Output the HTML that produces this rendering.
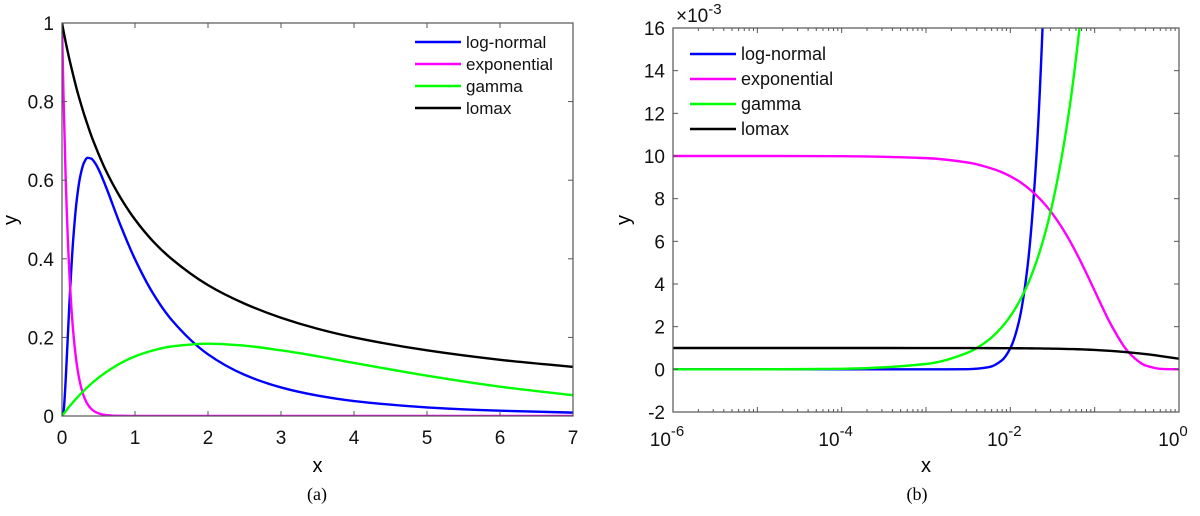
<!DOCTYPE html>
<html><head><meta charset="utf-8"><style>
body{margin:0;background:#fff}
svg{display:block;font-family:"Liberation Sans",sans-serif}
</style></head><body>
<svg id="c" width="1200" height="516" viewBox="0 0 1200 516"></svg>
<script>
// ---- panel (a) data ----
const xA = [0,0.02,0.05,0.1,0.15,0.2,0.25,0.3,0.35,0.4,0.45,0.5,0.6,0.8,1,1.25,1.5,2,2.5,3,3.5,4,5,6,7];
const lognormA = [0,0.0095,0.0897,0.2816,0.440,0.546,0.610,0.644,0.657,0.655,0.6446,0.628,0.584,0.486,0.399,0.311,0.245,0.157,0.105,0.0727,0.052,0.0381,0.0219,0.0134,0.0086];
const expA = [1,0.819,0.607,0.368,0.223,0.135,0.0821,0.0498,0.0302,0.0183,0.0111,0.0067,0.0025,0.0003,0,0,0,0,0,0,0,0,0,0,0];
const gammaA = [0,0.005,0.0122,0.0238,0.0348,0.0452,0.0552,0.0646,0.0736,0.0819,0.0899,0.0974,0.111,0.134,0.1516,0.167,0.177,0.184,0.179,0.167,0.152,0.135,0.1026,0.0747,0.0528];
const lomaxA = [1,0.980,0.952,0.909,0.870,0.833,0.8,0.769,0.741,0.714,0.690,0.667,0.625,0.556,0.5,0.444,0.4,0.333,0.286,0.25,0.222,0.2,0.167,0.143,0.125];
const xTicksA = [0,1,2,3,4,5,6,7];
const yTicksA = [0,0.2,0.4,0.6,0.8,1];
const yTickLabelsA = ["0","0.2","0.4","0.6","0.8","1"];
// ---- panel (b) data (y in units of 1e-3) ----
const xB = [1e-6,1e-5,1e-4,1e-3,0.00316,0.00562,0.00794,0.01,0.01259,0.01585,0.01995,0.02512,0.03162,0.03981,0.05012,0.0631,0.07943,0.1,0.1585,0.2512,0.3981,0.631,1];
const lognormB = [0,0,0,0,0.008,0.105,0.42,0.99,2.21,4.68,9.4,17.9,32.4,55,90,140,200,250,300,300,300,300,300];
const expB = [10,10,9.99,9.90,9.69,9.45,9.24,9.05,8.82,8.53,8.19,7.78,7.29,6.72,6.06,5.32,4.52,3.68,2.05,0.81,0.187,0.018,0.0005];
const gammaB = [0.00025,0.0025,0.025,0.25,0.79,1.40,1.98,2.49,3.13,3.93,4.94,6.20,7.78,9.75,12.2,15.3,19.1,24,38,60,90,130,200];
const lomaxB = [1,1,1,0.999,0.997,0.994,0.992,0.990,0.988,0.984,0.980,0.975,0.969,0.962,0.952,0.941,0.926,0.909,0.863,0.799,0.715,0.613,0.5];
const xTicksB = [-6,-4,-2,0];
const yTicksB = [-2,0,2,4,6,8,10,12,14,16];

const NS="http://www.w3.org/2000/svg";
const svg=document.getElementById('c');
function mk(tag,attrs,parent){const e=document.createElementNS(NS,tag);for(const k in attrs)e.setAttribute(k,attrs[k]);(parent||svg).appendChild(e);return e;}
// monotone cubic (Fritsch-Carlson) in pixel space
function smooth(pts){
  const n=pts.length, dx=[], m=[], t=[];
  for(let i=0;i<n-1;i++){dx[i]=pts[i+1][0]-pts[i][0];m[i]=(pts[i+1][1]-pts[i][1])/dx[i];}
  t[0]=m[0];t[n-1]=m[n-2];
  for(let i=1;i<n-1;i++){
    if(m[i-1]*m[i]<=0)t[i]=0;
    else{const w1=2*dx[i]+dx[i-1],w2=dx[i]+2*dx[i-1];t[i]=(w1+w2)/(w1/m[i-1]+w2/m[i]);}
  }
  let d="M"+pts[0][0].toFixed(2)+","+pts[0][1].toFixed(2);
  for(let i=0;i<n-1;i++){
    const h=dx[i]/3;
    d+=`C${(pts[i][0]+h).toFixed(2)},${(pts[i][1]+t[i]*h).toFixed(2)} ${(pts[i+1][0]-h).toFixed(2)},${(pts[i+1][1]-t[i+1]*h).toFixed(2)} ${pts[i+1][0].toFixed(2)},${pts[i+1][1].toFixed(2)}`;
  }
  return d;
}
const defs=mk('defs',{});
const colors={ln:'#0000ff',ex:'#ff00ff',ga:'#00ff00',lo:'#000000'};

// ---------- Panel A ----------
const A={l:62,r:573,t:23,b:416};
const sxA=v=>A.l+(v-0)/(7-0)*(A.r-A.l);
const syA=v=>A.b-(v-0)/(1-0)*(A.b-A.t);
const cpA=mk('clipPath',{id:'cpA'},defs);mk('rect',{x:A.l,y:A.t-2,width:A.r-A.l,height:A.b-A.t+2},cpA);
const gA=mk('g',{});


const plotA=mk('g',{'clip-path':'url(#cpA)'},gA);
[[lognormA,colors.ln,'log-normal'],[expA,colors.ex,'exponential'],[gammaA,colors.ga,'gamma'],[lomaxA,colors.lo,'lomax']].forEach(([ys,c,n])=>{
  const p=mk('path',{d:smooth(xA.map((x,i)=>[sxA(x),syA(ys[i])])),fill:'none',stroke:c,'stroke-width':2.4},plotA);
  
  
});
const frameA=mk('rect',{x:A.l,y:A.t,width:A.r-A.l,height:A.b-A.t,fill:'none',stroke:'#555','stroke-width':1.2},gA);


xTicksA.forEach(v=>{
  const x=sxA(v);
  mk('line',{x1:x,y1:A.b,x2:x,y2:A.b-5,stroke:'#555'},gA);
  mk('line',{x1:x,y1:A.t,x2:x,y2:A.t+5,stroke:'#555'},gA);
  const t=mk('text',{x:x,y:444,'font-size':19,'text-anchor':'middle',fill:'#111'},gA);t.textContent=v;
  
  
});
yTicksA.forEach((v,i)=>{
  const y=syA(v);
  mk('line',{x1:A.l,y1:y,x2:A.l+5,y2:y,stroke:'#555'},gA);
  mk('line',{x1:A.r,y1:y,x2:A.r-5,y2:y,stroke:'#555'},gA);
  const t=mk('text',{x:A.l-8,y:y+7,'font-size':19,'text-anchor':'end',fill:'#111'},gA);t.textContent=yTickLabelsA[i];
  
  
});
let t;
t=mk('text',{x:(A.l+A.r)/2,y:472,'font-size':20,'text-anchor':'middle'},gA);t.textContent='x';

t=mk('text',{x:17,y:220,'font-size':20,'text-anchor':'middle',transform:'rotate(-90 17 220)'},gA);t.textContent='y';

t=mk('text',{x:317,y:500,'font-size':18,'text-anchor':'middle','font-family':'Liberation Serif, serif'},gA);t.textContent='(a)';

function legend(g,x0,y0,dy,fs,name){
  const lg=mk('g',{},g);
  
  
  [['log-normal',colors.ln],['exponential',colors.ex],['gamma',colors.ga],['lomax',colors.lo]].forEach(([n,c],i)=>{
    const e=mk('g',{},lg);
    
    
    const y=y0+i*dy;
    mk('line',{x1:x0,y1:y,x2:x0+46,y2:y,stroke:c,'stroke-width':2.4},e);
    const tt=mk('text',{x:x0+51,y:y+6,'font-size':fs,fill:'#111'},e);tt.textContent=n;
  });
}
legend(gA,415,42,22,17,'legend-a');

// ---------- Panel B ----------
const B={l:673,r:1179,t:28,b:412};
const sxB=v=>B.l+(Math.log10(v)+6)/6*(B.r-B.l);
const syB=v=>B.b-(v+2)/18*(B.b-B.t);
const cpB=mk('clipPath',{id:'cpB'},defs);mk('rect',{x:B.l,y:B.t,width:B.r-B.l,height:B.b-B.t},cpB);
const gB=mk('g',{});


const plotB=mk('g',{'clip-path':'url(#cpB)'},gB);
[[lognormB,colors.ln,'log-normal'],[expB,colors.ex,'exponential'],[gammaB,colors.ga,'gamma'],[lomaxB,colors.lo,'lomax']].forEach(([ys,c,n])=>{
  const p=mk('path',{d:smooth(xB.map((x,i)=>[sxB(x),syB(ys[i])])),fill:'none',stroke:c,'stroke-width':2.4},plotB);
  
  
});
const frameB=mk('rect',{x:B.l,y:B.t,width:B.r-B.l,height:B.b-B.t,fill:'none',stroke:'#555','stroke-width':1.2},gB);


for(let e=-6;e<0;e++){for(let m=2;m<=9;m++){const x=sxB(m*Math.pow(10,e));
  mk('line',{x1:x,y1:B.b,x2:x,y2:B.b-3,stroke:'#555'},gB);mk('line',{x1:x,y1:B.t,x2:x,y2:B.t+3,stroke:'#555'},gB);}}
for(let e=-6;e<=0;e++){const x=sxB(Math.pow(10,e));
  mk('line',{x1:x,y1:B.b,x2:x,y2:B.b-5,stroke:'#555'},gB);mk('line',{x1:x,y1:B.t,x2:x,y2:B.t+5,stroke:'#555'},gB);}
xTicksB.forEach(e=>{
  const x=sxB(Math.pow(10,e));
  const tt=mk('text',{x:x-6,y:446,'font-size':19,'text-anchor':'middle',fill:'#111'},gB);
  
  
  tt.appendChild(document.createTextNode('10'));
  const s=mk('tspan',{dy:-10,'font-size':15},tt);s.textContent=e;
});
yTicksB.forEach(v=>{
  const y=syB(v);
  mk('line',{x1:B.l,y1:y,x2:B.l+5,y2:y,stroke:'#555'},gB);
  mk('line',{x1:B.r,y1:y,x2:B.r-5,y2:y,stroke:'#555'},gB);
  const tt=mk('text',{x:B.l-8,y:y+7,'font-size':19,'text-anchor':'end',fill:'#111'},gB);tt.textContent=v;
  
  
});
t=mk('text',{x:676,y:22,'font-size':19,fill:'#111'},gB);

t.appendChild(document.createTextNode('×10'));
const sp=mk('tspan',{dy:-8,'font-size':15},t);sp.textContent='-3';
t=mk('text',{x:(B.l+B.r)/2,y:472,'font-size':20,'text-anchor':'middle'},gB);t.textContent='x';

t=mk('text',{x:630,y:220,'font-size':20,'text-anchor':'middle',transform:'rotate(-90 630 220)'},gB);t.textContent='y';

t=mk('text',{x:917,y:500,'font-size':18,'text-anchor':'middle','font-family':'Liberation Serif, serif'},gB);t.textContent='(b)';

legend(gB,690,54,25,18,'legend-b');
</script>
</body></html>
